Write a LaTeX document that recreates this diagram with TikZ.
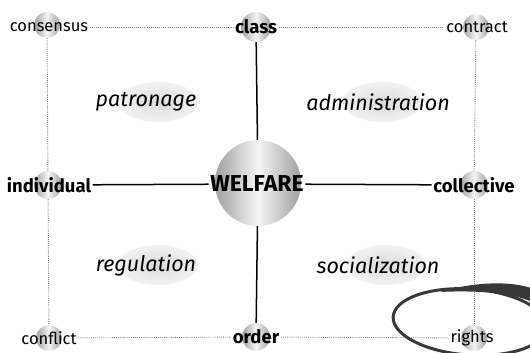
\documentclass[tikz,border=0pt]{standalone}
\usepackage{fontspec}
\setmainfont{Fira Sans}
\usetikzlibrary{shapes.geometric}
\begin{document}
\begin{tikzpicture}[x=1pt,y=-1pt,
  sphere/.style={circle, minimum size=#1, inner sep=0pt, left color=gray!75, right color=gray!75, middle color=gray!8},
  lbl/.style={font=\fontsize{16.5}{16.5}\selectfont, inner sep=1.5pt},
  blbl/.style={font=\bfseries\fontsize{18.5}{18.5}\selectfont, inner sep=1.5pt},
  wlbl/.style={font=\bfseries\fontsize{23}{23}\selectfont, inner sep=1.5pt},
  ital/.style={font=\itshape\fontsize{21.5}{21.5}\selectfont, inner sep=1pt},
  blob/.style={ellipse, minimum width=80pt, minimum height=40pt, inner sep=0pt, inner color=gray!28, outer color=gray!10},
  dotline/.style={gray, line width=0.9pt, dash pattern=on 0.9pt off 1.2pt},
  solidline/.style={black, line width=1.5pt},
]
\useasboundingbox (0,0) rectangle (530,353);
% blobs
\node[blob] (bpat) at (158,102) {};
\node[blob] (badm) at (382,102) {};
\node[blob] (breg) at (158,265) {};
\node[blob] (bsoc) at (386,265) {};
\node[ital] (tpat) at (146,102) {patronage};
\node[ital] (tadm) at (378,102) {administration};
\node[ital] (treg) at (146,265) {regulation};
\node[ital] (tsoc) at (378,265) {socialization};
% spheres
\node[sphere=26pt] (scons) at (47,25) {};
\node[sphere=30pt] (sclass) at (256,27) {};
\node[sphere=26pt] (scontr) at (476,27) {};
\node[sphere=28pt] (sind) at (48,185) {};
\node[sphere=86pt] (swelf) at (258,183) {};
\node[sphere=28pt] (scoll) at (474,185) {};
\node[sphere=26pt] (sconf) at (49,338) {};
\node[sphere=28pt] (sorder) at (256,337) {};
\node[sphere=26pt] (srights) at (474,338) {};
% texts
\node[lbl] (tcons) at (49,27) {consensus};
\node[blbl] (tclass) at (256,27) {class};
\node[lbl] (tcontr) at (477,27) {contract};
\node[blbl] (tind) at (49,185) {individual};
\node[wlbl] (twelf) at (257,184) {WELFARE};
\node[blbl] (tcoll) at (474,185) {collective};
\node[lbl] (tconf) at (49,338) {conflict};
\node[blbl] (torder) at (256,337) {order};
\node[lbl] (trights) at (472,338) {rights};
% connectors
\draw[solidline] (sclass) -- (swelf);
\draw[solidline] (swelf) -- (sorder);
\draw[solidline] (tind) -- (twelf);
\draw[solidline] (twelf) -- (tcoll);
\draw[dotline] (tcons) -- (tclass);
\draw[dotline] (tclass) -- (tcontr);
\draw[dotline] (tconf) -- (torder);
\draw[dotline] (torder) -- (trights);
\draw[dotline] (scons) -- (sind);
\draw[dotline] (sind) -- (sconf);
\draw[dotline] (scontr) -- (scoll);
\draw[dotline] (scoll) -- (srights);
% hand-drawn loop
\draw[black!78, line width=3pt, rotate around={-4:(470,322)}] (470,322) ellipse [x radius=77, y radius=33];
\fill[black!78] (440,292) .. controls (475,281) and (520,280) .. (540,292) -- (540,306) .. controls (520,293) and (478,290) .. (440,292) -- cycle;
\end{tikzpicture}
\end{document}
